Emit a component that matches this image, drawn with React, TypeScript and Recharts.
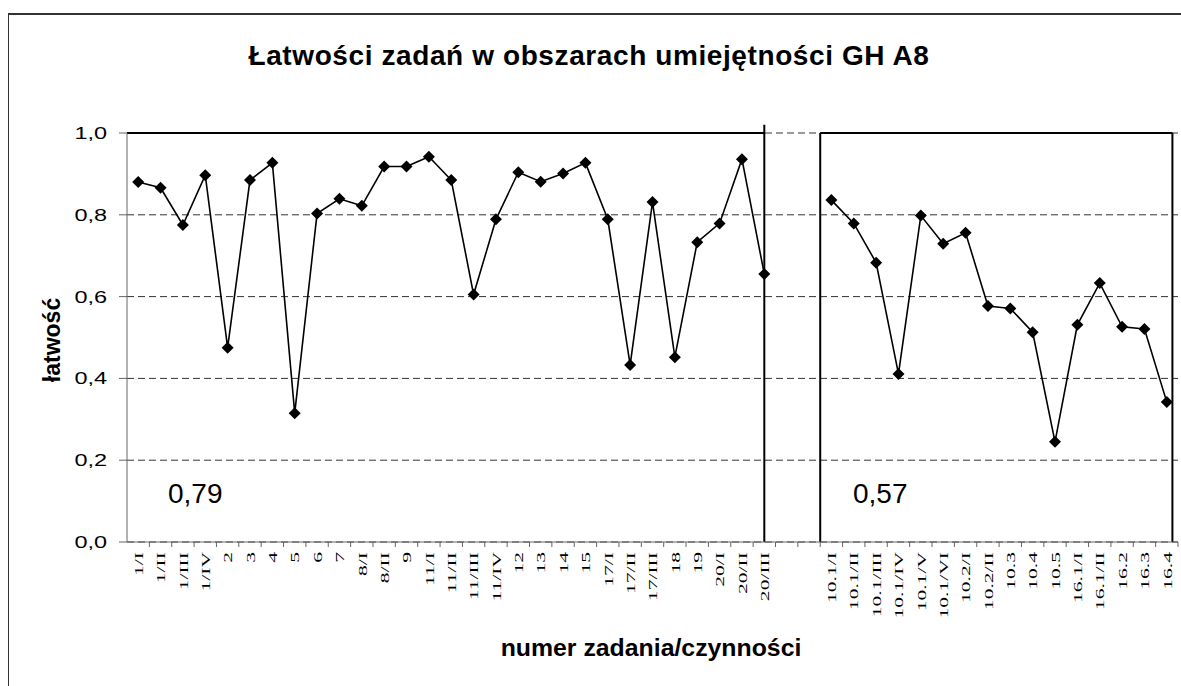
import React from 'react';
import { LineChart, Line, XAxis, YAxis, CartesianGrid, ReferenceLine } from 'recharts';

// task labels, left block (general) and right block (extended)
const leftCats = [
  '1/I', '1/II', '1/III', '1/IV', '2', '3', '4', '5', '6', '7', '8/I', '8/II', '9',
  '11/I', '11/II', '11/III', '11/IV', '12', '13', '14', '15', '17/I', '17/II', '17/III',
  '18', '19', '20/I', '20/II', '20/III',
];
const leftVals = [
  0.88, 0.866, 0.775, 0.897, 0.475, 0.885, 0.927, 0.315, 0.803, 0.839, 0.822, 0.918, 0.918,
  0.942, 0.885, 0.605, 0.789, 0.904, 0.881, 0.901, 0.927, 0.789, 0.433, 0.831,
  0.452, 0.733, 0.779, 0.936, 0.655,
];
const rightCats = [
  '10.1/I', '10.1/II', '10.1/III', '10.1/IV', '10.1/V', '10.1/VI', '10.2/I', '10.2/II',
  '10.3', '10.4', '10.5', '16.1/I', '16.1/II', '16.2', '16.3', '16.4',
];
const rightVals = [
  0.836, 0.779, 0.683, 0.411, 0.798, 0.729, 0.756, 0.577,
  0.571, 0.513, 0.245, 0.531, 0.633, 0.526, 0.521, 0.342,
];
const gapCount = 2;
const yTicks = [0, 0.2, 0.4, 0.6, 0.8, 1.0];
const leftMean = '0,79';
const rightMean = '0,57';

const categories = [...leftCats, ...Array(gapCount).fill(''), ...rightCats];
const values: (number | null)[] = [...leftVals, ...Array(gapCount).fill(null), ...rightVals];
const data = categories.map((name, i) => ({ idx: i, name, value: values[i] }));

const W = 1181;
const H = 686;
const Y_AXIS_W = 127;
const MARGIN = { top: 133, right: 3, left: 0, bottom: 44 };
const X_AXIS_H = 100;
const HALF_BAND = (W - Y_AXIS_W - MARGIN.right) / categories.length / 2;
const SANS = "'Liberation Sans', Arial, sans-serif";
const SERIF = "'Liberation Serif', 'Times New Roman', serif";

const leftEnd = leftCats.length - 1;
const rightStart = leftCats.length + gapCount - 0.5;
const rightEnd = categories.length - 0.75;

const Diamond = (props: any) => {
  const { cx, cy, index } = props;
  if (cx == null || cy == null) return <g key={index} />;
  const r = 6;
  return (
    <path
      key={index}
      d={`M${cx},${cy - r} L${cx + r},${cy} L${cx},${cy + r} L${cx - r},${cy} Z`}
      fill="#000"
    />
  );
};

const XTick = (props: any) => {
  const { x, y, payload } = props;
  const label = categories[payload.value] ?? '';
  return (
    <g transform={`translate(${x},${y})`}>
      <line x1={HALF_BAND} x2={HALF_BAND} y1={-10} y2={-5} stroke="#666" />
      <text
        transform="rotate(-90) scale(1.6,1)"
        textAnchor="end"
        dy="0.35em"
        fontFamily={SERIF}
        fontSize={13.5}
        fill="#000"
      >
        {label}
      </text>
    </g>
  );
};

const fmt = (v: number) => v.toFixed(1).replace('.', ',');

const YTick = (props: any) => {
  const { x, y, payload } = props;
  return (
    <text
      transform={`translate(${x},${y}) scale(1.38,1)`}
      textAnchor="end"
      dy="0.35em"
      fontFamily={SANS}
      fontSize={17}
      fill="#000"
    >
      {fmt(payload.value)}
    </text>
  );
};

export default function App() {
  const boxLine = { stroke: '#000', strokeWidth: 2, ifOverflow: 'visible' as const };
  return (
    <div style={{ position: 'relative', width: W, height: H, overflow: 'hidden', fontFamily: SANS, background: '#fff' }}>
      <style>{'body{margin:0;overflow:hidden}'}</style>
      <div
        style={{
          position: 'absolute', left: 8, top: 13, width: W - 8, height: H - 13,
          borderTop: '2px solid #333', borderLeft: '1px solid #333', boxSizing: 'border-box',
        }}
      />
      <div style={{ position: 'absolute', left: 0, top: 0 }}>
        <LineChart width={W} height={H} data={data} margin={MARGIN}>
          <CartesianGrid horizontal vertical={false} stroke="#333" strokeDasharray="7 4" />
          <XAxis
            dataKey="idx"
            type="number"
            domain={[-0.5, categories.length - 0.5]}
            ticks={categories.map((_, i) => i)}
            interval={0}
            height={X_AXIS_H}
            stroke="#666"
            tickLine={false}
            tickSize={5}
            tickMargin={5}
            tick={<XTick />}
          />
          <YAxis
            domain={[0, 1]}
            ticks={yTicks}
            width={Y_AXIS_W}
            stroke="#666"
            tickSize={8}
            tickMargin={12}
            tick={<YTick />}
          />
          <ReferenceLine segment={[{ x: -0.5, y: 1 }, { x: leftEnd, y: 1 }]} {...boxLine} />
          <ReferenceLine segment={[{ x: leftEnd, y: 0 }, { x: leftEnd, y: 1.02 }]} {...boxLine} />
          <ReferenceLine segment={[{ x: rightStart, y: 1 }, { x: rightEnd, y: 1 }]} {...boxLine} />
          <ReferenceLine segment={[{ x: rightStart, y: 0 }, { x: rightStart, y: 1 }]} {...boxLine} />
          <ReferenceLine segment={[{ x: rightEnd, y: 0 }, { x: rightEnd, y: 1 }]} {...boxLine} />
          <Line
            type="linear"
            dataKey="value"
            stroke="#000"
            strokeWidth={1.6}
            dot={Diamond}
            activeDot={false}
            connectNulls={false}
            isAnimationActive={false}
          />
        </LineChart>
      </div>
      <svg width={W} height={H} style={{ position: 'absolute', left: 0, top: 0, pointerEvents: 'none' }}>
        <text x={589} y={65} textAnchor="middle" fontSize={28} fontWeight="bold" letterSpacing={0.6} fill="#000">
          Łatwości zadań w obszarach umiejętności GH A8
        </text>
        <text transform="translate(52,340) rotate(-90)" textAnchor="middle" dy="0.35em" fontSize={23} fontWeight="bold" fill="#000">
          łatwość
        </text>
        <text transform="translate(651,656) scale(1.08,1)" textAnchor="middle" fontSize={23} fontWeight="bold" fill="#000">
          numer zadania/czynności
        </text>
        <text x={168} y={503} fontSize={28} fill="#000">{leftMean}</text>
        <text x={853} y={503} fontSize={28} fill="#000">{rightMean}</text>
      </svg>
    </div>
  );
}
